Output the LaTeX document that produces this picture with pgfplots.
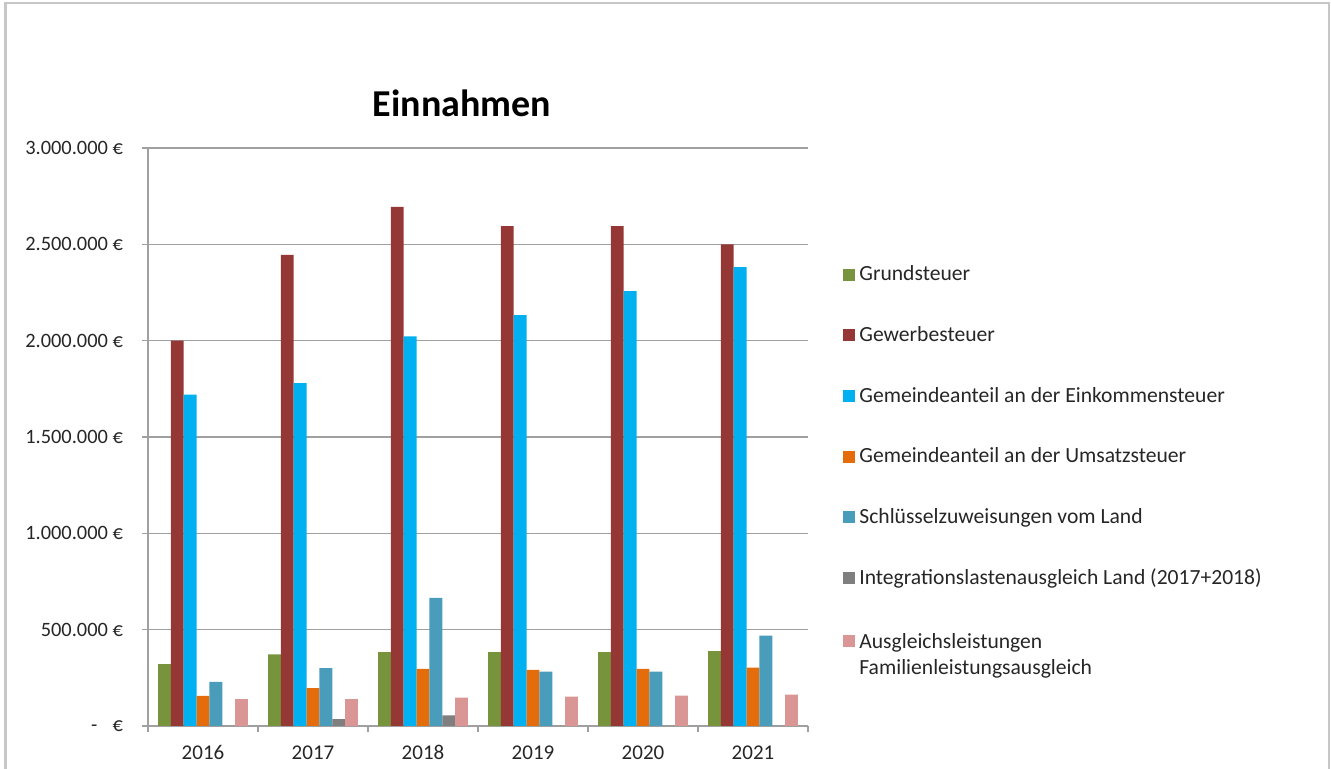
\documentclass[border=0pt]{standalone}
\usepackage{fontspec}
\setmainfont{Carlito}
\usepackage{pgfplots}
\usepackage{pgfplotstable}
\pgfplotsset{compat=1.18}
\definecolor{cG}{HTML}{77933C}
\definecolor{cGw}{HTML}{953735}
\definecolor{cEk}{HTML}{00B0F0}
\definecolor{cUs}{HTML}{E46C0A}
\definecolor{cSz}{HTML}{4A9DBA}
\definecolor{cIn}{HTML}{7F7F7F}
\definecolor{cAl}{HTML}{D99694}
\definecolor{gridc}{HTML}{A0A0A0}
\definecolor{txt}{HTML}{262626}
\pgfplotstableread{
x G Gw Ek Us Sz In Al
0 321000 2000000 1720000 156000 229000 0 139000
1 372000 2445000 1780000 196000 301000 36000 140000
2 383000 2695000 2022000 296000 665000 55000 147000
3 383000 2595000 2133000 291000 282000 0 152000
4 383000 2595000 2257000 296000 282000 0 157000
5 388000 2500000 2382000 303000 469000 0 163000
}\data
\begin{document}
\begin{tikzpicture}
\path[use as bounding box] (0pt,0pt) rectangle (665.5pt,384.5pt);
\draw[black!22, line width=1.2pt] (2.8pt,0pt) -- (2.8pt,383pt) -- (664.5pt,383pt) -- (664.5pt,0pt);
\node[font=\fontsize{19}{22}\selectfont\bfseries, text=black] at (231pt,333pt) {Einnahmen};
\begin{axis}[
  at={(74pt,21.5pt)}, anchor=south west, scale only axis,
  width=330pt, height=289pt,
  xmin=-0.5, xmax=5.5, ymin=0, ymax=3000000,
  ybar=0pt, bar width=0.1167,
  axis x line*=bottom, axis y line*=left,
  axis line style={gridc, line width=0.7pt},
  ymajorgrids, grid style={gridc, line width=0.7pt},
  ytick={0,500000,1000000,1500000,2000000,2500000,3000000},
  yticklabels={-\hspace{0.75em}€, 500.000 €, 1.000.000 €, 1.500.000 €, 2.000.000 €, 2.500.000 €, 3.000.000 €},
  scaled y ticks=false,
  xtick={-0.5,0.5,1.5,2.5,3.5,4.5,5.5}, xticklabels={},
  extra x ticks={0,1,2,3,4,5},
  extra x tick labels={2016,2017,2018,2019,2020,2021},
  extra x tick style={major tick length=0pt, grid=none, xticklabel style={anchor=base, yshift=-17pt, font=\fontsize{10.5}{12}\selectfont}},
  tick align=outside, major tick length=3pt,
  tick style={gridc, line width=0.7pt},
  ticklabel style={font=\fontsize{10.2}{12}\selectfont, text=txt},
  yticklabel style={xshift=-6pt},
  every axis plot post/.append style={legend image code/.code={\fill[##1] (0pt,-3pt) rectangle (6pt,3pt);}},
  legend cell align=left,
  legend style={at={(rel axis cs:1.053,0.8037)}, anchor=north west, draw=none, fill=none,
    inner sep=0pt, row sep=17.3pt, font=\fontsize{10.8}{13}\selectfont, text=txt},
]
\addplot[fill=cG, draw=none] table[x=x,y=G]{\data};
\addlegendentry{Grundsteuer}
\addplot[fill=cGw, draw=none] table[x=x,y=Gw]{\data};
\addlegendentry{Gewerbesteuer}
\addplot[fill=cEk, draw=none] table[x=x,y=Ek]{\data};
\addlegendentry{Gemeindeanteil an der Einkommensteuer}
\addplot[fill=cUs, draw=none] table[x=x,y=Us]{\data};
\addlegendentry{Gemeindeanteil an der Umsatzsteuer}
\addplot[fill=cSz, draw=none] table[x=x,y=Sz]{\data};
\addlegendentry{Schlüsselzuweisungen vom Land}
\addplot[fill=cIn, draw=none] table[x=x,y=In]{\data};
\addlegendentry{Integrationslastenausgleich Land (2017+2018)}
\addplot[fill=cAl, draw=none] table[x=x,y=Al]{\data};
\addlegendentry{\raisebox{0pt}[\height][0pt]{\begin{tabular}[t]{@{}l@{}}Ausgleichsleistungen\\Familienleistungsausgleich\end{tabular}}}
\end{axis}
\end{tikzpicture}
\end{document}
